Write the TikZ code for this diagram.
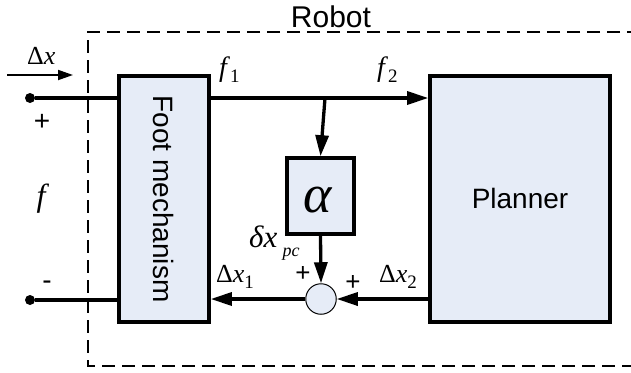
\documentclass[tikz,border=0pt]{standalone}
\usepackage{fontspec}
\setmainfont{Liberation Serif}
\setsansfont{Liberation Sans}
\usetikzlibrary{arrows.meta}
\definecolor{boxfill}{RGB}{230,236,247}
\newcommand{\lowsub}[2][6bp]{\raisebox{-#1}{\fontsize{19bp}{19bp}\selectfont #2}}
\begin{document}
\begin{tikzpicture}[x=1bp,y=-1bp,
  blk/.style={draw, line width=3.6bp, fill=boxfill, inner sep=0pt},
  wire/.style={line width=3.3bp},
  arr/.style={wire, -{Triangle[length=21bp,width=13bp]}},
  thinarr/.style={line width=1.8bp, -{Triangle[length=15bp,width=10bp]}},
  dashbox/.style={line width=2.9bp, dash pattern=on 13bp off 7bp},
  sanslbl/.style={font=\sffamily\fontsize{28bp}{30bp}\selectfont, inner sep=0pt},
  mlbl/.style={font=\fontsize{26bp}{28bp}\selectfont, inner sep=0pt},
  dot/.style={circle, fill=black, inner sep=0pt, minimum size=10bp},
]
\useasboundingbox (0,0) rectangle (631,372);
\begin{scope}
\clip (0,0) rectangle (631,372);
\draw[dashbox] (660,32) -- (88,32) -- (88,366) -- (660,366);
\end{scope}
\node[sanslbl, font=\sffamily\fontsize{30bp}{32bp}\selectfont, anchor=base] (robot) at (331,27) {Robot};

% blocks
\node[blk, minimum width=90bp, minimum height=246bp, font=\sffamily\fontsize{28bp}{30bp}\selectfont] (foot) at (164,199) {\rotatebox{-90}{Foot mechanism}};
\node[blk, minimum width=180bp, minimum height=246bp] (planner) at (520,199) {};
\node[sanslbl, anchor=base] (plannerlbl) at (520,208) {Planner};
\node[blk, minimum width=67bp, minimum height=76bp] (alpha) at (320.5,196) {};
\node[inner sep=0pt, anchor=base, font=\fontsize{54bp}{56bp}\selectfont] (alphalbl) at (318,212) {\textit{α}};
\node[circle, draw, line width=1bp, fill=boxfill, minimum size=30.5bp, inner sep=0pt] (sum) at (321,299) {};

% terminals
\node[dot] (d1) at (30,98) {};
\node[dot] (d2) at (30,300) {};
\coordinate (br) at (325,98);
\coordinate (ia) at (7,75);
\coordinate (ib) at (73,75);

% connectors
\draw[wire] (d1) -- (d1 -| foot.west);
\draw[wire] (d2) -- (d2 -| foot.west);
\draw[arr] (foot.east |- br) -- (br -| planner.west);
\draw[arr] (br) -- (alpha.north);
\draw[arr] (alpha.south) -- (sum.north);
\draw[arr] (planner.west |- sum) -- (sum.east);
\draw[arr] (sum.west) -- (sum -| foot.east);
\draw[thinarr] (ia) -- (ib);

% labels
\node[mlbl, anchor=base west] (dxl) at (27,64) {Δ\textit{x}};
\node[sanslbl] (plus1) at (42,122) {+};
\node[sanslbl] (minus1) at (47,285) {-};
\node[mlbl, font=\fontsize{32bp}{34bp}\selectfont] (fl) at (43,199) {\textit{f}};
\node[mlbl, font=\fontsize{28bp}{30bp}\selectfont, anchor=base west] (f1l) at (219,76) {\textit{f}\lowsub{1}};
\node[mlbl, font=\fontsize{28bp}{30bp}\selectfont, anchor=base west] (f2l) at (377,76) {\textit{f}\lowsub{2}};
\node[mlbl, anchor=base west] (dx1l) at (216,282) {Δ\textit{x}\lowsub{1}};
\node[mlbl, anchor=base west] (dx2l) at (379,282) {Δ\textit{x}\lowsub{2}};
\node[mlbl, font=\fontsize{31bp}{32bp}\selectfont, anchor=base west] (dpcl) at (249,247) {\textit{δx}\,\lowsub[9bp]{\fontsize{18bp}{18bp}\selectfont\textit{pc}}};
\node[sanslbl, font=\sffamily\fontsize{26bp}{28bp}\selectfont] (plus2) at (303,274) {+};
\node[sanslbl, font=\sffamily\fontsize{26bp}{28bp}\selectfont] (plus3) at (353,283) {+};
\end{tikzpicture}
\end{document}
